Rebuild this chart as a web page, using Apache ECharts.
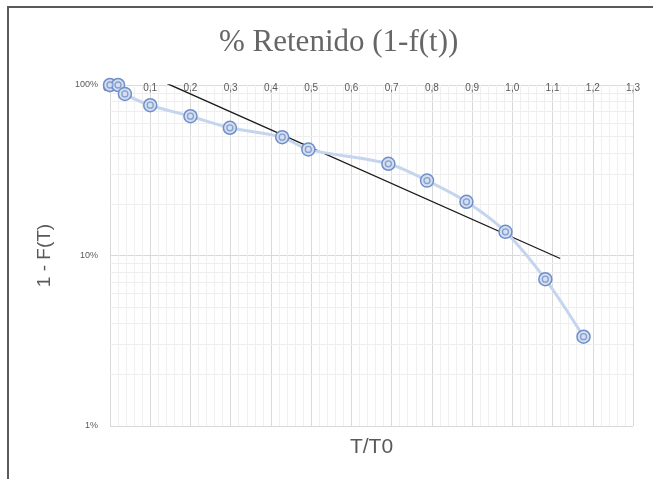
<!DOCTYPE html>
<html><head><meta charset="utf-8">
<script src="https://cdn.jsdelivr.net/npm/echarts@6/dist/echarts.min.js"></script>
<style>html,body{margin:0;padding:0;background:#fff}#c{width:653px;height:479px}</style>
</head><body><div id="c"></div>
<script>
var tRatio = [0.0, 0.02, 0.037, 0.10, 0.20, 0.298, 0.428, 0.493, 0.692, 0.788, 0.886, 0.983, 1.082, 1.177];
var retained = [1.0, 1.0, 0.887, 0.761, 0.656, 0.561, 0.494, 0.419, 0.345, 0.275, 0.2065, 0.1377, 0.0726, 0.0334];
var trendX = [0.142, 1.119];
var trendY = [1.02, 0.096];
var yMinorGrid = [0.02,0.03,0.04,0.05,0.06,0.07,0.08,0.09,0.2,0.3,0.4,0.5,0.6,0.7,0.8,0.9];
var titleText = '% Retenido (1-f(t))';
var xName = 'T/T0', yName = '1 - F(T)';

var pts = tRatio.map(function(x,i){return [x, retained[i]];});
var trend = trendX.map(function(x,i){return [x, trendY[i]];});

var chart = echarts.init(document.getElementById('c'));
chart.setOption({
  backgroundColor:'#fff',
  animation:false,
  graphic:[{type:'rect', shape:{x:8,y:7,width:700,height:500}, style:{fill:'none', stroke:'#5a5a5a', lineWidth:2}, z:100}],
  title:{text:titleText, left:214, top:22, textStyle:{fontFamily:'Liberation Serif', fontSize:31, fontWeight:'normal', color:'#666666'}},
  grid:{left:110, right:20, top:85, bottom:53},
  xAxis:{type:'value', min:0, max:1.3, interval:0.1, position:'top',
    name:xName, nameLocation:'middle', nameGap:-373,
    nameTextStyle:{fontFamily:'Liberation Sans', fontSize:21, color:'#595959'},
    axisLine:{show:false}, axisTick:{show:false},
    axisLabel:{margin:-8, fontSize:10, color:'#595959', fontFamily:'Liberation Sans',
      formatter:function(v){return v.toFixed(1).replace('.',',');}},
    splitLine:{show:true, lineStyle:{color:'#d9d9d9', width:1}},
    minorTick:{show:false, splitNumber:5},
    minorSplitLine:{show:true, lineStyle:{color:'#f0f0f0', width:1}}
  },
  yAxis:{type:'log', logBase:10, min:0.01, max:1,
    name:yName, nameLocation:'middle', nameGap:56, nameRotate:90,
    nameTextStyle:{fontFamily:'Liberation Sans', fontSize:19, color:'#595959'},
    axisLine:{show:false}, axisTick:{show:false},
    axisLabel:{margin:12, fontSize:9, color:'#595959', fontFamily:'Liberation Sans',
      formatter:function(v){return Math.round(v*100)+'%';}},
    splitLine:{show:true, lineStyle:{color:'#d9d9d9', width:1}}
  },
  series:[
    {type:'line', data:trend, symbol:'none', lineStyle:{color:'#1a1a1a', width:1.3}, z:3, silent:true,
     markLine:{silent:true, symbol:'none', label:{show:false}, lineStyle:{color:'#eeeeee', width:1, type:'solid'},
       data:yMinorGrid.map(function(v){return {yAxis:v};}), z:1}},
    {type:'line', data:pts, smooth:0.3, symbol:'circle', symbolSize:13,
     lineStyle:{color:'#c5d5ee', width:3},
     itemStyle:{color:'#d4def0', borderColor:'#6f8fc8', borderWidth:1.5}, z:4},
    {type:'scatter', data:pts, symbol:'circle', symbolSize:6,
     itemStyle:{color:'#d4def0', borderColor:'#6f8fc8', borderWidth:1.3}, z:5}
  ]
});
</script></body></html>
